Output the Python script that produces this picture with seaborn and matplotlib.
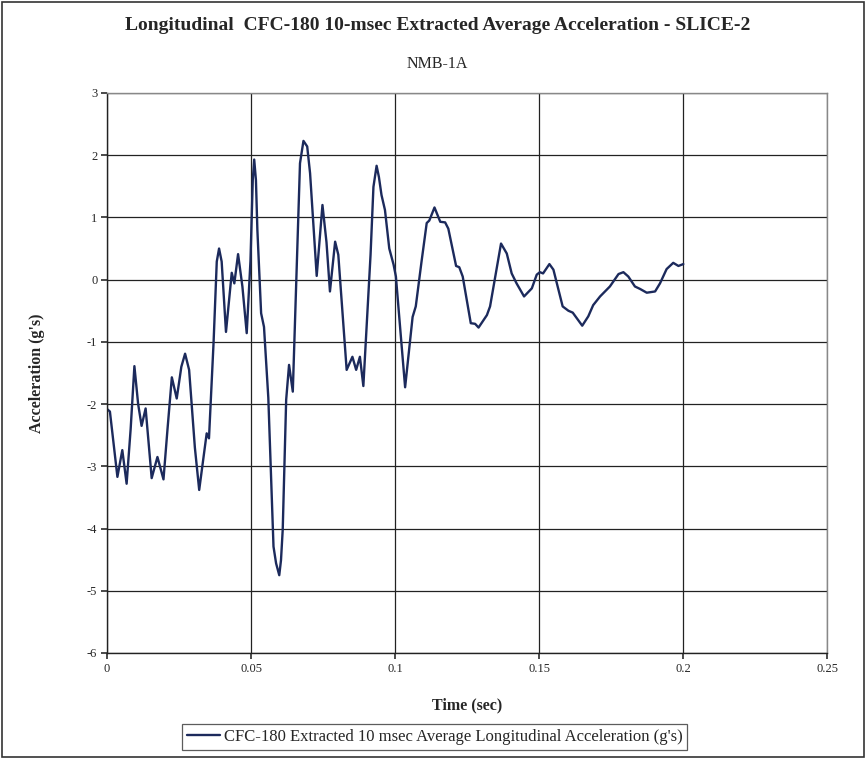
"""Longitudinal CFC-180 10-msec extracted average acceleration, NMB-1A."""

import numpy as np
import pandas as pd
import matplotlib
matplotlib.use("Agg")
import matplotlib.pyplot as plt
import seaborn as sns

# values
time_s = [
    0.0000, 0.0010, 0.0036, 0.0053, 0.0068, 0.0082, 0.0095, 0.0108, 0.0120,
    0.0134, 0.0155, 0.0175, 0.0196, 0.0210, 0.0225, 0.0242, 0.0258, 0.0271,
    0.0285, 0.0305, 0.0320, 0.0346, 0.0354, 0.0370, 0.0381, 0.0389, 0.0398,
    0.0413, 0.0433, 0.0442, 0.0455, 0.0470, 0.0485, 0.0498, 0.0506, 0.0511,
    0.0517, 0.0522, 0.0535, 0.0545, 0.0560, 0.0578, 0.0587, 0.0598, 0.0604,
    0.0610, 0.0622, 0.0632, 0.0645, 0.0655, 0.0670, 0.0682, 0.0695, 0.0705,
    0.0728, 0.0748, 0.0762, 0.0774, 0.0792, 0.0803, 0.0832, 0.0852, 0.0865,
    0.0878, 0.0890, 0.0915, 0.0925, 0.0936, 0.0944, 0.0953, 0.0965, 0.0980,
    0.0995, 0.1003, 0.1020, 0.1035, 0.1061, 0.1072, 0.1092, 0.1110, 0.1119,
    0.1137, 0.1157, 0.1174, 0.1185, 0.1212, 0.1223, 0.1235, 0.1263, 0.1278,
    0.1290, 0.1319, 0.1330, 0.1368, 0.1388, 0.1405, 0.1422, 0.1448, 0.1475,
    0.1492, 0.1503, 0.1514, 0.1536, 0.1550, 0.1582, 0.1602, 0.1617, 0.1650,
    0.1671, 0.1688, 0.1712, 0.1746, 0.1776, 0.1793, 0.1810, 0.1833, 0.1851,
    0.1874, 0.1903, 0.1920, 0.1943, 0.1966, 0.1984, 0.2001,
]
accel_g = [
    -2.08, -2.12, -3.17, -2.74, -3.28, -2.40, -1.39, -2.00, -2.35,
    -2.07, -3.19, -2.85, -3.21, -2.40, -1.57, -1.91, -1.40, -1.19,
    -1.45, -2.70, -3.38, -2.47, -2.55, -1.00, 0.29, 0.50, 0.29,
    -0.84, 0.11, -0.06, 0.41, -0.11, -0.86, 0.30, 1.60, 1.93,
    1.60, 0.80, -0.54, -0.76, -1.90, -4.29, -4.56, -4.75, -4.51,
    -4.02, -1.93, -1.37, -1.80, -0.33, 1.87, 2.23, 2.14, 1.71,
    0.06, 1.20, 0.60, -0.19, 0.61, 0.40, -1.45, -1.24, -1.45,
    -1.24, -1.71, 0.40, 1.49, 1.83, 1.65, 1.36, 1.12, 0.50,
    0.24, 0.05, -0.90, -1.73, -0.60, -0.43, 0.29, 0.91, 0.95,
    1.16, 0.93, 0.92, 0.82, 0.22, 0.20, 0.05, -0.70, -0.71,
    -0.77, -0.57, -0.43, 0.58, 0.42, 0.10, -0.06, -0.27, -0.14,
    0.08, 0.12, 0.10, 0.25, 0.16, -0.43, -0.50, -0.53, -0.74,
    -0.59, -0.41, -0.27, -0.11, 0.09, 0.12, 0.05, -0.11, -0.15,
    -0.21, -0.19, -0.06, 0.17, 0.27, 0.22, 0.25,
]
series_label = "CFC-180 Extracted 10 msec Average Longitudinal Acceleration (g's)"
x_ticks = [0, 0.05, 0.1, 0.15, 0.2, 0.25]
x_tick_labels = ["0", "0.05", "0.1", "0.15", "0.2", "0.25"]
y_ticks = [-6, -5, -4, -3, -2, -1, 0, 1, 2, 3]

df = pd.DataFrame({"time": time_s, "accel": accel_g})

sns.set_theme(style="white")
plt.rcParams["font.family"] = ["Liberation Serif", "DejaVu Serif"]
plt.rcParams["axes.unicode_minus"] = False

fig = plt.figure(figsize=(8.66, 7.59), dpi=100)
ax = fig.add_axes([0.1236, 0.1397, 0.8314, 0.7378])

sns.lineplot(data=df, x="time", y="accel", ax=ax, color="#1c2a5c",
             linewidth=1.7, label=series_label, legend=False)

ax.set_xlim(0, 0.25)
ax.set_ylim(-6, 3)
ax.set_xticks(x_ticks)
ax.set_xticklabels(x_tick_labels)
ax.set_yticks(y_ticks)
ax.grid(True, color="#222222", linewidth=0.9)
ax.tick_params(axis="both", labelsize=9, length=4, direction="out",
               left=True, bottom=True, color="#333333", pad=3)
for name, sp in ax.spines.items():
    sp.set_color("#888888" if name in ("top", "right") else "#222222")
    sp.set_linewidth(1.0)

ax.set_xlabel("Time (sec)", fontsize=11.5, fontweight="bold", labelpad=16)
ax.set_ylabel("Acceleration (g's)", fontsize=11.5, fontweight="bold", labelpad=30)

fig.text(0.505, 0.967, "Longitudinal  CFC-180 10-msec Extracted Average Acceleration - SLICE-2",
         ha="center", va="center", fontsize=14, fontweight="bold")
fig.text(0.505, 0.916, "NMB-1A", ha="center", va="center", fontsize=11.5)

handles, labels = ax.get_legend_handles_labels()
leg = fig.legend(handles, labels, loc="center", bbox_to_anchor=(0.502, 0.029),
                 fontsize=12, frameon=True, fancybox=False, handlelength=2.0,
                 borderpad=0.3, handletextpad=0.2)
leg.get_frame().set_edgecolor("#333333")
leg.get_frame().set_linewidth(0.9)

# outer chart border
fig.patches.append(plt.Rectangle((0.002, 0.002), 0.996, 0.996, transform=fig.transFigure,
                                 fill=False, edgecolor="#333333", linewidth=1.2))

fig.savefig("out.png", dpi=100)
